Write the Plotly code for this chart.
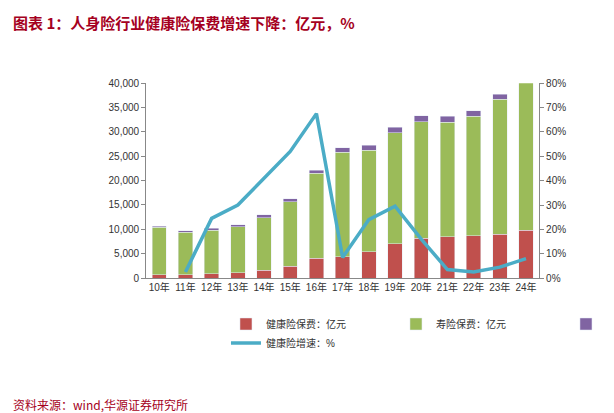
import plotly.graph_objects as go

years = ["10年","11年","12年","13年","14年","15年","16年","17年","18年","19年","20年","21年","22年","23年","24年"]
health = [700,700,860,1120,1590,2410,4040,4390,5450,7070,8170,8450,8650,9040,9770]
life = [9700,8700,8990,9430,10810,13240,17460,21410,20750,22730,23930,23550,24550,27660,31000]
accident = [200,300,350,350,550,650,650,950,1050,1200,1200,1200,1100,1000,1000]
growth_x = years[1:]
growth = [2.5,24.5,30,41,52,67.5,8.5,24,29.5,16,3.5,2.5,4.5,8]

fig = go.Figure()
fig.add_bar(x=years, y=health, name="健康险保费：亿元", marker_color="#c0504d")
fig.add_bar(x=years, y=life, name="寿险保费：亿元", marker_color="#9bbb59")
fig.add_bar(x=years, y=accident, name="意外险保费：亿元", marker_color="#8064a2")
fig.add_scatter(x=growth_x, y=growth, name="健康险增速：%", yaxis="y2", mode="lines",
                line=dict(color="#4bacc6", width=3.5))
fig.update_layout(
    width=614, height=413, barmode="stack", bargap=0.45,
    plot_bgcolor="white", paper_bgcolor="white",
    font=dict(family="Liberation Sans, Noto Sans CJK SC", size=10, color="#333"),
    margin=dict(l=0, r=0, t=0, b=0, autoexpand=False),
    xaxis=dict(domain=[0.225, 0.865], showline=True, linecolor="#888", ticks="", tickfont=dict(size=10)),
    yaxis=dict(domain=[0.346, 0.818], range=[0,40000], dtick=5000, tickformat=",", showgrid=False, showline=True,
               linecolor="#888", ticks="outside", ticklen=4, tickcolor="#888"),
    yaxis2=dict(range=[0,80], dtick=10, ticksuffix="%", overlaying="y", side="right",
                showgrid=False, showline=True, linecolor="#888", ticks="outside", ticklen=4, tickcolor="#888"),
    legend=dict(orientation="h", x=0.355, xanchor="left", y=0.27, yanchor="top",
                font=dict(size=10), traceorder="normal", entrywidth=125, tracegroupgap=4),
    annotations=[
        dict(text="<b>图表 1：人身险行业健康险保费增速下降：亿元，%</b>", x=0.005, y=0.995, xref="paper", yref="paper",
             xanchor="left", yanchor="top", showarrow=False, font=dict(size=15, color="#a50021", family="Noto Sans CJK SC")),
        dict(text="资料来源：wind,华源证券研究所", x=0.005, y=0.015, xref="paper", yref="paper",
             xanchor="left", yanchor="bottom", showarrow=False, font=dict(size=12, color="#a50021", family="Noto Sans CJK SC")),
    ],
)
fig.write_html("out.html")
